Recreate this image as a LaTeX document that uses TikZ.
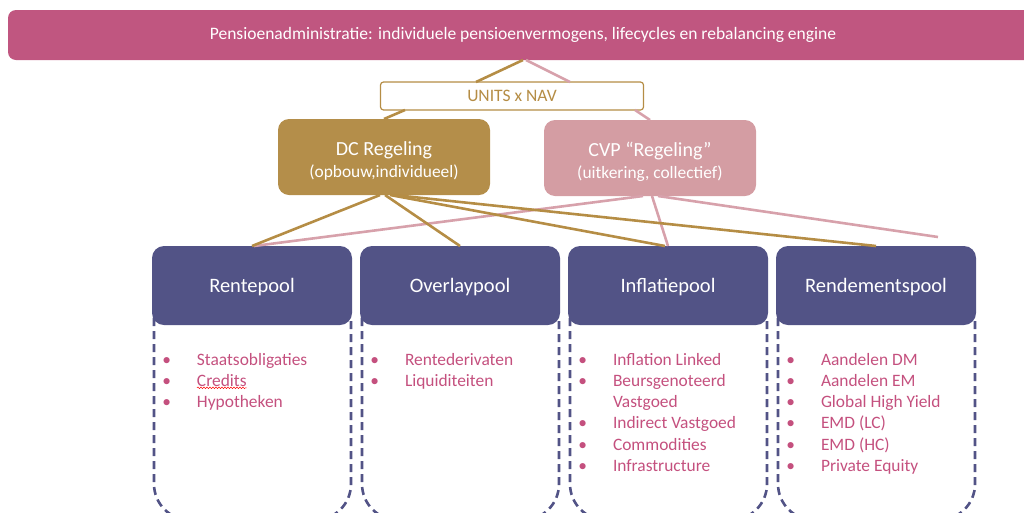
\documentclass[tikz,border=0pt]{standalone}
\usepackage{fontspec}
\setmainfont{Carlito}
\usetikzlibrary{calc,decorations.pathmorphing}

\definecolor{barpink}{HTML}{C05680}
\definecolor{dcgold}{HTML}{B48E4A}
\definecolor{cvppink}{HTML}{D49DA3}
\definecolor{poolblue}{HTML}{525386}
\definecolor{itempink}{HTML}{C4507E}
\definecolor{goldline}{HTML}{B58D45}
\definecolor{pinkline}{HTML}{D7A1AB}

\tikzset{
  every node/.style={inner sep=0pt, outer sep=0pt},
  topbar/.style={fill=barpink, rounded corners=8pt, minimum width=1030pt, minimum height=50pt,
    text=white, font=\fontsize{17.5}{20}\selectfont},
  unitsbox/.style={draw=goldline, line width=1.2pt, fill=white, rounded corners=3pt,
    minimum width=263pt, minimum height=28pt, text=goldline, font=\fontsize{17.5}{20}\selectfont},
  regbox/.style={rounded corners=11pt, minimum width=212pt, minimum height=76pt,
    text=white, align=center, text depth=0pt},
  poolbox/.style={fill=poolblue, rounded corners=12pt, minimum width=200pt, minimum height=79pt,
    text=white, text depth=0pt, font=\fontsize{20.5}{24}\selectfont},
  poolframe/.style={draw=poolblue, line width=2.6pt, dash pattern=on 8pt off 5pt, rounded corners=36pt},
  item/.style={anchor=base west, text=itempink, font=\fontsize{17.4}{20}\selectfont},
  gline/.style={draw=goldline, line width=2.6pt},
  pline/.style={draw=pinkline, line width=2.6pt},
}
\newcommand\bul{\llap{\textbullet\hspace{26pt}}}

\begin{document}
\begin{tikzpicture}[x=1pt,y=-1pt]
\useasboundingbox (0,0) rectangle (1024,512);
\clip (0,0) rectangle (1024,512);

% top administration bar (runs past the right edge)
\node[topbar] (top) at (523,35) {Pensioenadministratie: individuele pensioenvermogens, lifecycles en rebalancing engine};

% units box and the two schemes
\node[unitsbox] (units) at (512,96) {UNITS x NAV};
\node[regbox, fill=dcgold] (dc) at (384,157)
  {{\fontsize{20}{23}\selectfont\rule{0pt}{19pt}DC Regeling}\\[5pt]{\fontsize{17.4}{20}\selectfont (opbouw,individueel)}};
\node[regbox, fill=cvppink] (cvp) at (650,158)
  {{\fontsize{20}{23}\selectfont\rule{0pt}{19pt}CVP “Regeling”}\\[5pt]{\fontsize{17.4}{20}\selectfont (uitkering, collectief)}};

% dashed pool frames
\foreach \cx in {252,460,668,876}{
  \draw[poolframe] (\cx-98,318) -- (\cx-98,520) -- (\cx+99,520) -- (\cx+99,318);
}

% pool headers
\node[poolbox] (rente) at (252,285.5) {Rentepool};
\node[poolbox] (overlay) at (460,285.5) {Overlaypool};
\node[poolbox] (inflatie) at (668,285.5) {Inflatiepool};
\node[poolbox] (rendement) at (876,285.5) {Rendementspool};

% connectors
\coordinate (cvpend) at (938,237);
\draw[gline] (top.south) -- ([xshift=-36pt]units.north);
\draw[pline] ([xshift=3pt]top.south) -- ([xshift=58pt]units.north);
\draw[gline] ([xshift=-107pt]units.south) -- (dc.north);
\draw[pline] ([xshift=123pt]units.south) -- (cvp.north);

\draw[pline] ([xshift=-7pt]cvp.south) -- ([xshift=2pt]rente.north);
\draw[pline] ([xshift=2pt]cvp.south) -- (inflatie.north);
\draw[pline] ([xshift=8pt]cvp.south) -- (cvpend);

\draw[gline] ([xshift=-4pt]dc.south) -- (rente.north);
\draw[gline] ([xshift=1pt]dc.south) -- (overlay.north);
\draw[gline] ([xshift=6pt]dc.south) -- ([xshift=-3pt]inflatie.north);
\draw[gline] ([xshift=10pt]dc.south) -- (rendement.north);

% pool contents
\node[item] (r1) at (197,365) {\bul Staatsobligaties};
\node[item] (r2) at (197,386.3) {\bul Credits};
\node[item] (r3) at (197,407.6) {\bul Hypotheken};
\draw[red, line width=0.5pt, decorate, decoration={snake, amplitude=0.8pt, segment length=3pt}]
  ([yshift=-1.5pt]r2.base west) -- ([yshift=-1.5pt]r2.base east);

\node[item] (o1) at (405,365) {\bul Rentederivaten};
\node[item] (o2) at (405,386.3) {\bul Liquiditeiten};

\node[item] (i1) at (613,365) {\bul Inflation Linked};
\node[item] (i2) at (613,386.3) {\bul Beursgenoteerd};
\node[item] (i3) at (613,407.6) {Vastgoed};
\node[item] (i4) at (613,428.9) {\bul Indirect Vastgoed};
\node[item] (i5) at (613,450.2) {\bul Commodities};
\node[item] (i6) at (613,471.5) {\bul Infrastructure};

\node[item] (d1) at (821,365) {\bul Aandelen DM};
\node[item] (d2) at (821,386.3) {\bul Aandelen EM};
\node[item] (d3) at (821,407.6) {\bul Global High Yield};
\node[item] (d4) at (821,428.9) {\bul EMD (LC)};
\node[item] (d5) at (821,450.2) {\bul EMD (HC)};
\node[item] (d6) at (821,471.5) {\bul Private Equity};
\end{tikzpicture}
\end{document}
